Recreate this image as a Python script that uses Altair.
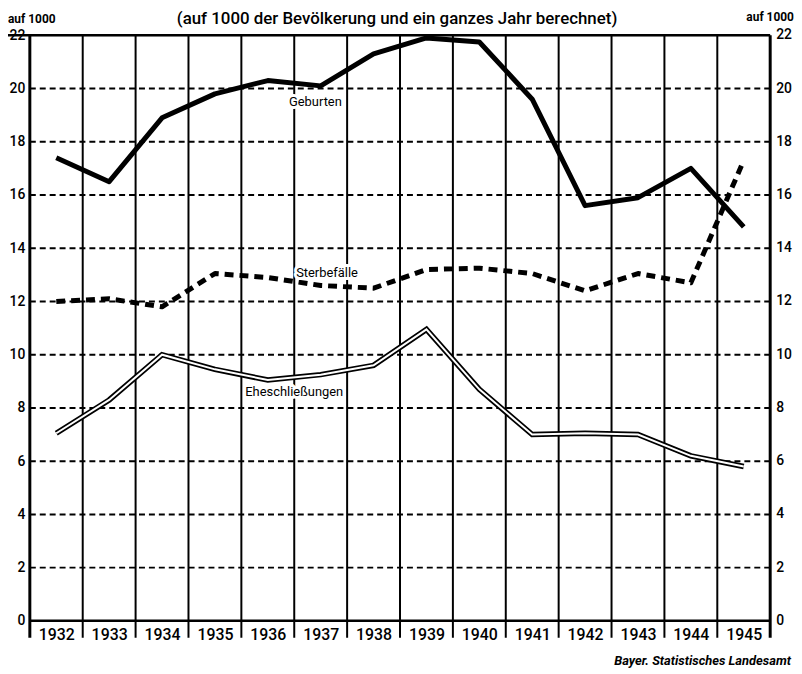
import altair as alt
import pandas as pd

years = list(range(1932, 1946))
geburten = [17.4, 16.5, 18.9, 19.8, 20.3, 20.1, 21.3, 21.9, 21.75, 19.6, 15.6, 15.9, 17.0, 14.8]
sterbefaelle = [12.0, 12.1, 11.8, 13.05, 12.9, 12.6, 12.5, 13.2, 13.25, 13.05, 12.4, 13.05, 12.7, 17.3]
eheschliessungen = [7.05, 8.3, 10.0, 9.45, 9.05, 9.25, 9.6, 10.95, 8.7, 7.0, 7.05, 7.0, 6.2, 5.8]
y_ticks = list(range(0, 23, 2))
grid_levels = list(range(2, 21, 2))
inner_dividers = [y + 0.5 for y in range(1932, 1945)]
outer_dividers = [1931.5, 1945.5]

title_text = "(auf 1000 der Bevölkerung und ein ganzes Jahr berechnet)"
unit_text = "auf 1000"
source_text = "Bayer. Statistisches Landesamt"

W, H = 746, 590
FONT = "Roboto"

xs = alt.Scale(domain=[1931.5, 1945.5], nice=False, zero=False)
ys = alt.Scale(domain=[0, 22], nice=False, zero=True)
x_axis = alt.Axis(values=years, format="d", ticks=False, domain=False, grid=False,
                  labelFontSize=16, labelFont=FONT, labelFontWeight=500,
                  labelColor="black", labelPadding=6, title=None)
y_axis = alt.Axis(values=y_ticks, ticks=False, domain=False, grid=False,
                  labelFontSize=14, labelFont=FONT, labelFontWeight=500,
                  labelColor="black", labelPadding=5, title=None)

df = pd.DataFrame({"year": years, "geb": geburten, "ster": sterbefaelle, "ehe": eheschliessungen})
grid_df = pd.DataFrame({"v": grid_levels})
tick_df = pd.DataFrame({"v": y_ticks})
inner_df = pd.DataFrame({"d": inner_dividers})
outer_df = pd.DataFrame({"d": outer_dividers})
one = pd.DataFrame({"k": [0]})

X = lambda f: alt.X(f, scale=xs, axis=x_axis, title=None)
Y = lambda f: alt.Y(f, scale=ys, axis=y_axis, title=None)

hgrid = alt.Chart(grid_df).mark_rule(color="black", strokeWidth=2, strokeDash=[6, 4]).encode(
    y=Y("v:Q"))

top_line = alt.Chart(one).mark_rule(color="black", strokeWidth=2.5).encode(
    y=alt.Y(datum=22, scale=ys, axis=y_axis), x=alt.value(-22), x2=alt.value(W))
bottom_line = alt.Chart(one).mark_rule(color="black", strokeWidth=2.5).encode(
    y=alt.Y(datum=0, scale=ys, axis=y_axis), x=alt.value(0), x2=alt.value(W))

vinner = alt.Chart(inner_df).mark_rule(color="black", strokeWidth=2).encode(
    x=X("d:Q"), y=alt.value(0), y2=alt.value(H + 17))
vouter = alt.Chart(outer_df).mark_rule(color="black", strokeWidth=3).encode(
    x=X("d:Q"), y=alt.value(0), y2=alt.value(H + 17))

geb_line = alt.Chart(df).mark_line(color="black", strokeWidth=5, strokeJoin="round").encode(
    x=X("year:Q"), y=Y("geb:Q"))
ster_line = alt.Chart(df).mark_line(color="black", strokeWidth=5, strokeDash=[9, 6],
                                    strokeJoin="round").encode(x=X("year:Q"), y=Y("ster:Q"))
ehe_outer = alt.Chart(df).mark_line(color="black", strokeWidth=5.5).encode(
    x=X("year:Q"), y=Y("ehe:Q"))
ehe_inner = alt.Chart(df).mark_line(color="white", strokeWidth=2).encode(
    x=X("year:Q"), y=Y("ehe:Q"))


def series_label(text, xv, yv):
    base = alt.Chart(one).encode(
        x=alt.X(datum=xv, scale=xs, axis=x_axis),
        y=alt.Y(datum=yv, scale=ys, axis=y_axis))
    halo = base.mark_text(text=text, font=FONT, fontSize=13, stroke="white",
                          strokeWidth=6, fill="white", strokeJoin="round")
    txt = base.mark_text(text=text, font=FONT, fontSize=13, color="black")
    return halo + txt


lab_geb = series_label("Geburten", 1936.9, 19.48)
lab_ster = series_label("Sterbefälle", 1937.12, 13.06)
lab_ehe = series_label("Eheschließungen", 1936.5, 8.58)

right_labels = alt.Chart(tick_df).mark_text(align="left", baseline="middle", font=FONT,
                                            fontSize=14, fontWeight=500, color="black").encode(
    y=Y("v:Q"), x=alt.value(W + 6), text="v:Q")

title = alt.Chart(one).mark_text(text=title_text, font=FONT, fontSize=17, fontWeight=500,
                                 align="center", baseline="middle").encode(
    x=alt.value(W / 2 - 3), y=alt.value(-16))
unit_left = alt.Chart(one).mark_text(text=unit_text, font=FONT, fontSize=12, fontWeight="bold",
                                     align="left", baseline="middle").encode(
    x=alt.value(-22), y=alt.value(-16))
unit_right = alt.Chart(one).mark_text(text=unit_text, font=FONT, fontSize=12, fontWeight="bold",
                                      align="left", baseline="middle").encode(
    x=alt.value(W - 24), y=alt.value(-18))
source = alt.Chart(one).mark_text(text=source_text, font=FONT, fontSize=13, fontWeight="bold",
                                  fontStyle="italic", align="right", baseline="middle").encode(
    x=alt.value(W + 21), y=alt.value(H + 40))

chart = alt.layer(
    hgrid, vinner, vouter, top_line, bottom_line,
    geb_line, ster_line, ehe_outer, ehe_inner,
    lab_geb, lab_ster, lab_ehe,
    right_labels, title, unit_left, unit_right, source,
).properties(
    width=W, height=H,
    autosize=alt.AutoSizeParams(type="none"),
    padding={"left": 22, "top": 25, "right": 24, "bottom": 48},
).configure_view(stroke=None).configure(background="white")

chart.save("out.html", embed_options={"renderer": "svg", "actions": False})
